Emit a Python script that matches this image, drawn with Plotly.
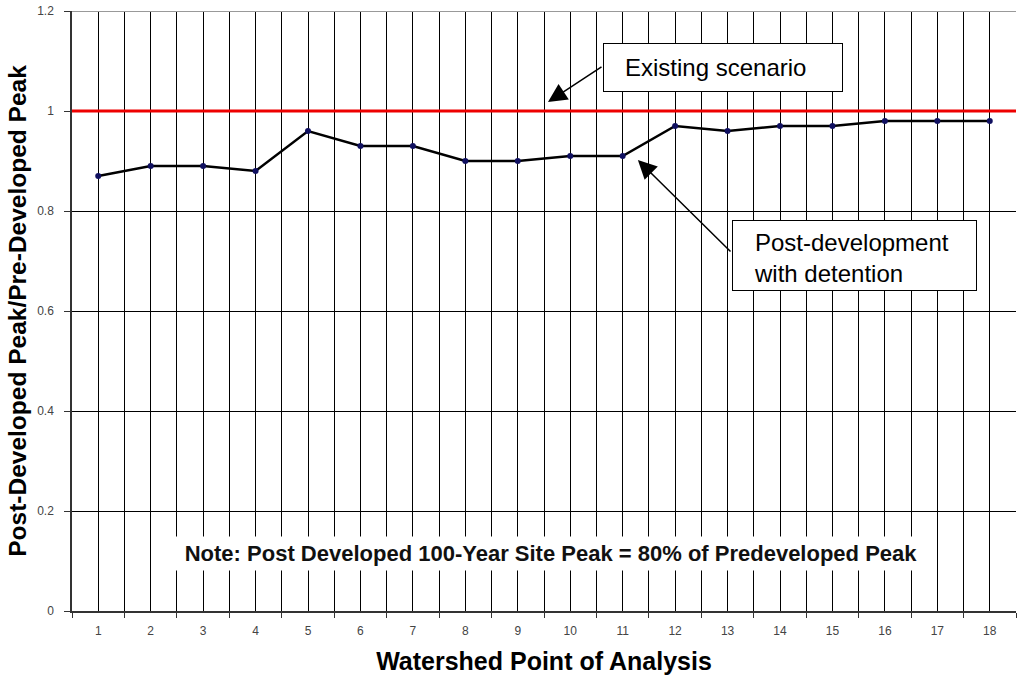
import plotly.graph_objects as go

# Watershed points of analysis and the post-development / pre-development peak ratios
points = list(range(1, 19))
post_with_detention = [0.87, 0.89, 0.89, 0.88, 0.96, 0.93, 0.93, 0.90, 0.90,
                       0.91, 0.91, 0.97, 0.96, 0.97, 0.97, 0.98, 0.98, 0.98]
existing_ratio = 1.0
y_ticks = [0, 0.2, 0.4, 0.6, 0.8, 1, 1.2]
y_tick_text = ["0", "0.2", "0.4", "0.6", "0.8", "1", "1.2"]

FONT = "Arial, 'Liberation Sans', sans-serif"

fig = go.Figure()

fig.add_trace(go.Scatter(x=points, y=post_with_detention, mode="lines+markers",
                         line=dict(color="black", width=2.5),
                         marker=dict(color="#101060", size=6),
                         name="Post-development with detention", showlegend=False))

fig.add_hline(y=existing_ratio, line=dict(color="#ee0000", width=3), layer="above")

fig.update_layout(
    width=1017, height=682,
    margin=dict(l=72, r=1, t=11, b=71),
    paper_bgcolor="white", plot_bgcolor="white",
    font=dict(family=FONT, color="black"),
    showlegend=False,
)

fig.update_xaxes(
    range=[0.5, 18.5], tickvals=points, ticktext=[str(p) for p in points],
    showgrid=True, gridcolor="black", gridwidth=1.3,
    ticks="", tickfont=dict(size=12, color="#444"), ticklabelstandoff=8,
    showline=True, linecolor="#333", linewidth=1.5, zeroline=False,
    minor=dict(tickvals=[p - 0.5 for p in points] + [18.5], showgrid=True,
               gridcolor="black", gridwidth=1.3, ticks="outside", ticklen=5,
               tickcolor="#333"),
    title=dict(text="<b>Watershed Point of Analysis</b>", font=dict(size=25), standoff=15),
)

fig.update_yaxes(
    range=[0, 1.2], tickvals=y_ticks, ticktext=y_tick_text,
    showgrid=True, gridcolor="black", gridwidth=1.3,
    ticks="outside", ticklen=6, tickcolor="#333",
    tickfont=dict(size=12, color="#444"), ticklabelstandoff=8,
    showline=True, linecolor="#333", linewidth=1.5, zeroline=False,
    title=dict(text="<b>Post-Developed Peak/Pre-Developed Peak</b>", font=dict(size=24.5), standoff=4),
)

# note box over the lower gridlines
fig.add_annotation(x=9.63, y=0.116, xref="x", yref="y", showarrow=False,
                   text="<b>Note: Post Developed 100-Year Site Peak = 80% of Predeveloped Peak</b>",
                   font=dict(size=22, color="#111"), bgcolor="white",
                   width=752, height=33, borderpad=0)

# callout boxes (frame) and their text
fig.add_annotation(x=12.913, y=1.087, xref="x", yref="y", showarrow=False,
                   text="&nbsp;", bgcolor="white", bordercolor="black", borderwidth=1,
                   width=238, height=47, borderpad=0)
fig.add_annotation(x=11.006, y=1.088, xref="x", yref="y", showarrow=False,
                   xanchor="left", text="Existing scenario", font=dict(size=24))
fig.add_annotation(x=15.42, y=0.711, xref="x", yref="y", showarrow=False,
                   text="&nbsp;", bgcolor="white", bordercolor="black", borderwidth=1,
                   width=243, height=69, borderpad=0)
fig.add_annotation(x=13.466, y=0.707, xref="x", yref="y", showarrow=False,
                   xanchor="left", align="left", text="Post-development<br>with detention",
                   font=dict(size=24))

# arrows
fig.add_annotation(x=9.576, y=1.018, ax=10.625, ay=1.09, xref="x", yref="y",
                   axref="x", ayref="y", text="", showarrow=True,
                   arrowhead=2, arrowsize=2.5, arrowwidth=1.5, arrowcolor="black")
fig.add_annotation(x=11.29, y=0.902, ax=13.085, ay=0.716, xref="x", yref="y",
                   axref="x", ayref="y", text="", showarrow=True,
                   arrowhead=2, arrowsize=2.5, arrowwidth=1.5, arrowcolor="black")

fig.add_hline(y=1.2, line=dict(color="#999", width=2), layer="above")

# drop the default 8px page margin so the figure fills the window
fig.write_html("out.html", config={"displayModeBar": False},
               post_script="document.body.style.margin='0';")
